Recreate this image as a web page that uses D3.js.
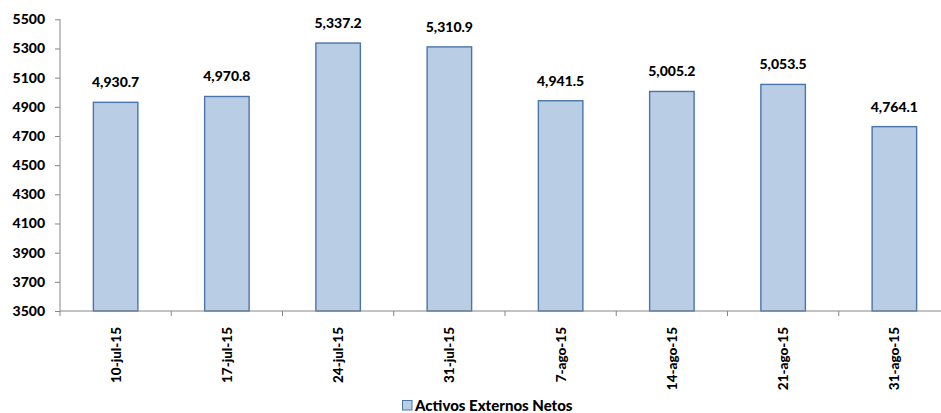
<!DOCTYPE html>
<html><head><meta charset="utf-8">
<script src="https://cdn.jsdelivr.net/npm/d3@7"></script>
<style>body{margin:0;background:#fff;}svg{display:block;}</style>
</head><body>
<svg id="c" width="941" height="413"></svg>
<script>
const categories = ["10-jul-15","17-jul-15","24-jul-15","31-jul-15","7-ago-15","14-ago-15","21-ago-15","31-ago-15"];
const values = [4930.7, 4970.8, 5337.2, 5310.9, 4941.5, 5005.2, 5053.5, 4764.1];
const yTicks = [3500,3700,3900,4100,4300,4500,4700,4900,5100,5300,5500];
const seriesName = "Activos Externos Netos";

const font = "Lato, 'Open Sans', sans-serif";
const svg = d3.select("#c");
const x = d3.scaleBand().domain(categories).range([60, 950]).paddingInner(0.6).paddingOuter(0.3);
const y = d3.scaleLinear().domain([3500, 5500]).range([311, 19.3]);

// y axis
const ya = svg.append("g").attr("transform","translate(60,0)")
  .call(d3.axisLeft(y).tickValues(yTicks).tickSize(5).tickPadding(10).tickFormat(d3.format("d")));
ya.select(".domain").attr("stroke","#868686").attr("d","M0,"+y(5500)+"V"+y(3500));
ya.selectAll(".tick line").attr("stroke","#868686");
ya.selectAll("text").attr("font-family",font).attr("font-weight","900").attr("font-size","14px").attr("fill","#000");

// bars
svg.append("g").selectAll("rect").data(values).join("rect")
  .attr("x",(d,i)=>x(categories[i])).attr("width",x.bandwidth())
  .attr("y",d=>y(d)).attr("height",d=>y(3500)-y(d))
  .attr("fill","#B9CDE5").attr("stroke","#4A74AA").attr("stroke-width",1.4);

// data labels
svg.append("g").selectAll("text").data(values).join("text")
  .attr("x",(d,i)=>x(categories[i])+x.bandwidth()/2).attr("y",d=>y(d)-15)
  .attr("text-anchor","middle").attr("font-family",font).attr("font-weight","900").attr("font-size","14px")
  .text(d=>d3.format(",.1f")(d));

// x axis
const xa = svg.append("g").attr("transform","translate(0,311)");
xa.append("line").attr("x1",60).attr("x2",950).attr("y1",0).attr("y2",0).attr("stroke","#868686");
const edges = d3.range(categories.length+1).map(i=>60 + i*(890/categories.length));
xa.selectAll(".tk").data(edges).join("line").attr("class","tk")
  .attr("x1",d=>d).attr("x2",d=>d).attr("y1",0).attr("y2",5).attr("stroke","#868686");
xa.selectAll(".lb").data(categories).join("text").attr("class","lb")
  .attr("transform",d=>`translate(${x(d)+x.bandwidth()/2+5},16) rotate(-90)`)
  .attr("text-anchor","end").attr("font-family",font).attr("font-weight","900").attr("font-size","13.5px")
  .text(d=>d);

// legend
const lg = svg.append("g");
lg.append("rect").attr("x",402.5).attr("y",400.5).attr("width",9.5).attr("height",9.5)
  .attr("fill","#B9CDE5").attr("stroke","#4A74AA");
lg.append("text").attr("x",415).attr("y",410.5).attr("font-family",font).attr("font-weight","900").attr("font-size","15px")
  .text(seriesName);
</script>
</body></html>
